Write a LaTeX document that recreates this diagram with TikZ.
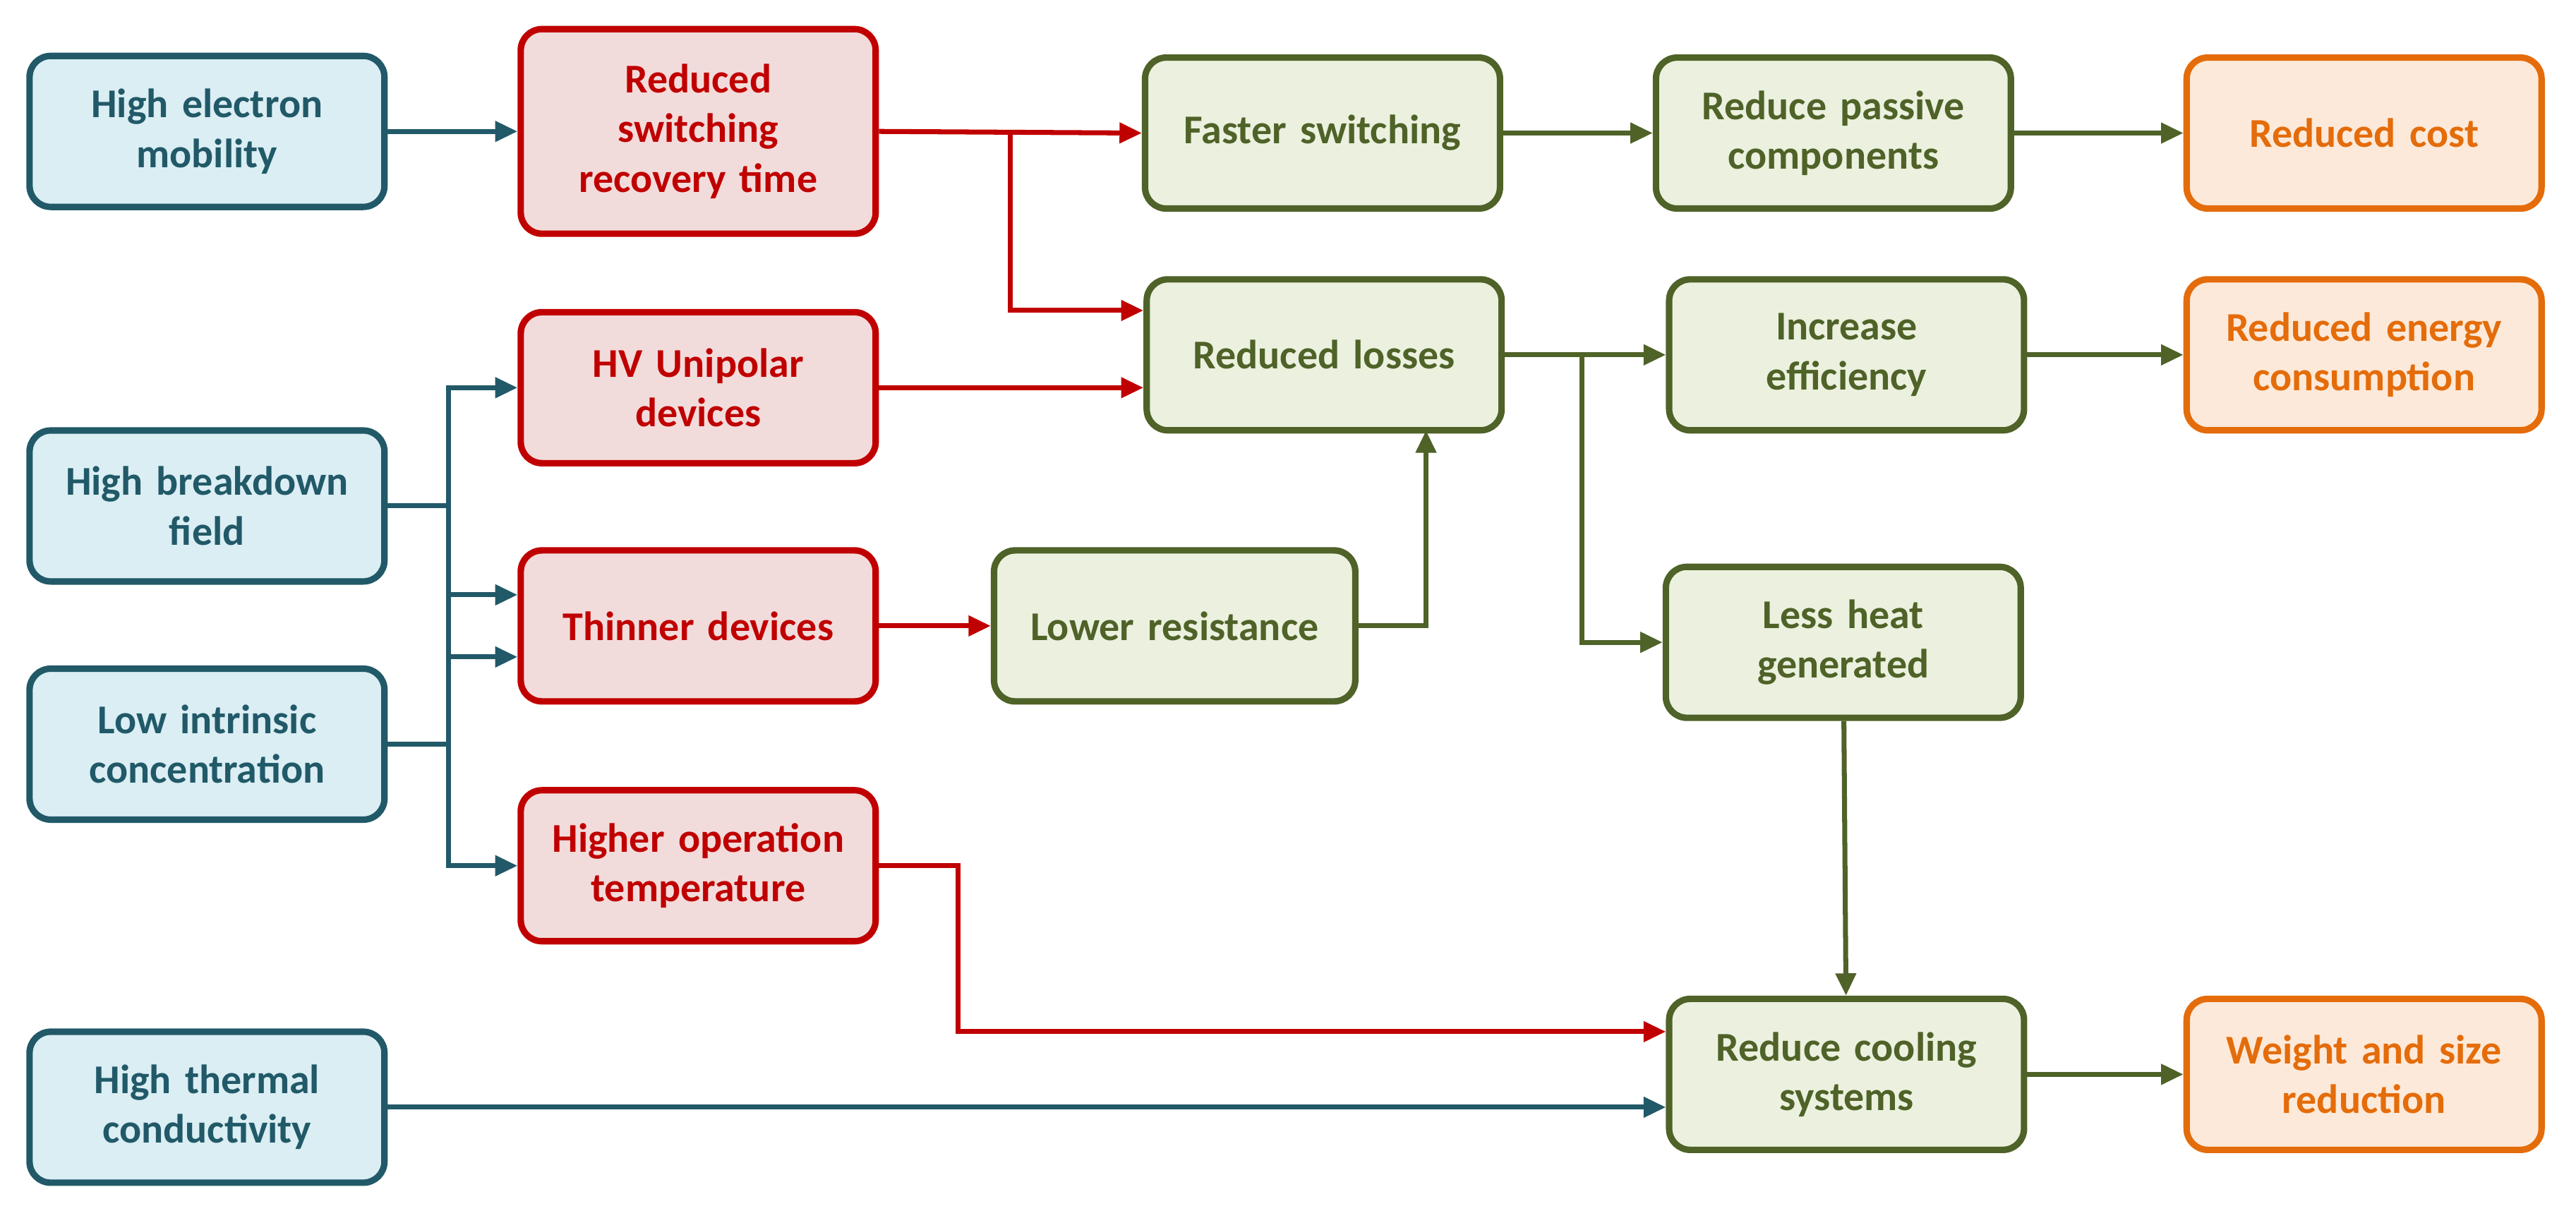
\documentclass[tikz,border=0pt]{standalone}
\usepackage{fontspec}
\setmainfont{Carlito}
\usetikzlibrary{arrows.meta}
\definecolor{blueln}{HTML}{215968}
\definecolor{bluefl}{HTML}{DAEEF3}
\definecolor{redln}{HTML}{C00000}
\definecolor{redfl}{HTML}{F2DCDB}
\definecolor{greenln}{HTML}{4F6228}
\definecolor{greenfl}{HTML}{EBF1DE}
\definecolor{orangeln}{HTML}{E46C0A}
\definecolor{orangefl}{HTML}{FDE9D9}
\begin{document}
\begin{tikzpicture}[x=0.02328cm, y=-0.02328cm, >={Triangle[length=9pt,width=8pt]}, line width=2pt,
  box/.style={rectangle, rounded corners=0.3cm, line width=2.6pt, align=center, minimum width=5.03cm, minimum height=2.14cm, text width=4.6cm, font=\fontsize{16.5}{20}\selectfont\bfseries},
  bluebox/.style={box, draw=blueln, fill=bluefl, text=blueln},
  redbox/.style={box, draw=redln, fill=redfl, text=redln},
  greenbox/.style={box, draw=greenln, fill=greenfl, text=greenln},
  orangebox/.style={box, draw=orangeln, fill=orangefl, text=orangeln}]
\useasboundingbox (0,0) rectangle (1568,737);
% inputs
\node[bluebox] (hem) at (126,80) {High electron\\mobility};
\node[bluebox] (hbf) at (126,308) {High breakdown\\field};
\node[bluebox] (lic) at (126,453) {Low intrinsic\\concentration};
\node[bluebox] (htc) at (126,674) {High thermal\\conductivity};
% device effects
\node[redbox, minimum height=2.9cm] (rsrt) at (425,80) {Reduced\\switching\\recovery time};
\node[redbox] (hv) at (425,236) {HV Unipolar\\devices};
\node[redbox] (thin) at (425,381) {Thinner devices};
\node[redbox] (hot) at (425,527) {Higher operation\\temperature};
% system effects
\node[greenbox] (fast) at (805,81) {Faster switching};
\node[greenbox] (loss) at (806,216) {Reduced losses};
\node[greenbox, minimum width=5.12cm] (res) at (715,381) {Lower resistance};
\node[greenbox] (pass) at (1116,81) {Reduce passive\\components};
\node[greenbox] (eff) at (1124,216) {Increase\\efficiency};
\node[greenbox] (heat) at (1122,391) {Less heat\\generated};
\node[greenbox] (cool) at (1124,654) {Reduce cooling\\systems};
% outcomes
\node[orangebox] (cost) at (1439,81) {Reduced cost};
\node[orangebox] (energy) at (1439,216) {Reduced energy\\consumption};
\node[orangebox] (weight) at (1439,654) {Weight and size\\reduction};

\draw[->, blueln] (hem) -- (rsrt);
\draw[->, blueln] (hbf.east) -- (273,308) |- (hv.west);
\draw[->, blueln] (273,308) |- ([yshift=-0.44cm]thin.west);
\draw[->, blueln] (lic.east) -- (273,453) |- ([yshift=0.44cm]thin.west);
\draw[->, blueln] (273,453) |- (hot.west);
\draw[->, blueln] (htc.east) -- (htc.east -| cool.west);
\draw[->, redln] (rsrt.east) -- (fast.west);
\draw[->, redln] (615,80) |- (loss.west |- 0,189);
\draw[->, redln] (hv.east) -- (hv.east -| loss.west);
\draw[->, redln] (thin) -- (res);
\draw[->, redln] (hot.east) -- (583,527) |- (cool.west |- 0,628);
\draw[->, greenln] (res.east) -- (868,381) -- (868,262);
\draw[->, greenln] (fast) -- (pass);
\draw[->, greenln] (loss.east) -- (eff.west);
\draw[->, greenln] (963,216) |- (heat.west);
\draw[->, greenln] (heat) -- (cool);
\draw[->, greenln] (pass) -- (cost);
\draw[->, greenln] (eff) -- (energy);
\draw[->, greenln] (cool) -- (weight);
\end{tikzpicture}
\end{document}
